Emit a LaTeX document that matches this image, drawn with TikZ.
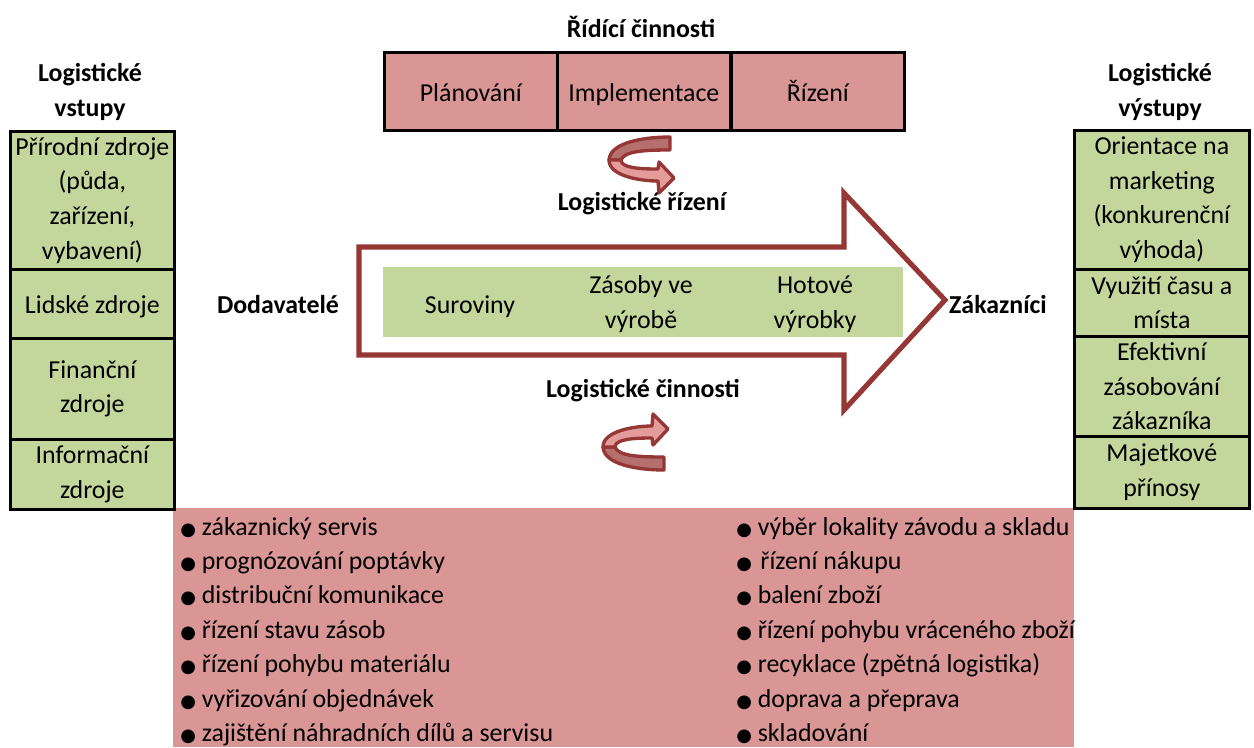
\documentclass[tikz,border=0pt]{standalone}
\usepackage{fontspec}
\setmainfont{Carlito}
\newfontfamily\dejavu{DejaVu Sans}

\definecolor{pinkfill}{HTML}{D99694}
\definecolor{greenfill}{HTML}{C3D69B}
\definecolor{arrowred}{HTML}{953735}
\definecolor{bandlight}{HTML}{E39C9A}
\definecolor{banddark}{HTML}{B5706E}

\newcommand\bul{{\dejavu\fontsize{13.5}{13.5}\selectfont ●}\ }

% twisted circular arrow, drawn around the local origin
\newcommand\twistarrow{%
  \draw[band, fill=banddark] (30,-28) .. controls (5,-28) and (-30,-23) .. (-31,-5)
    -- (-19,-5) .. controls (-16,-14) and (5,-15) .. (30,-15) -- cycle;
  \draw[band, fill=bandlight] (-31,-5) .. controls (-31,11) and (0,16) .. (18,16)
    -- (19,28) -- (34,13) -- (19,-3) -- (18,4)
    .. controls (0,4) and (-19,3) .. (-19,-5) -- cycle;
}

\tikzset{
  txt/.style={font=\fontsize{19.4}{25.9}\selectfont, inner sep=0pt, align=center},
  oneline/.style={text height=16pt, text depth=1pt},
  hdr/.style={txt, font=\fontsize{19.4}{25.9}\selectfont\bfseries},
  cell/.style={txt, draw=black, line width=2pt, fill=greenfill, anchor=north west},
  topcell/.style={txt, oneline, draw=black, line width=2pt, fill=pinkfill, anchor=north west,
    minimum width=173*0.75pt, minimum height=78*0.75pt},
  band/.style={draw=arrowred, line width=2.5pt, line join=round},
}

\begin{document}
\begin{tikzpicture}[x=0.75pt, y=-0.75pt]
\useasboundingbox (0,0) rectangle (1254,747);

% list of logistic activities
\node[fill=pinkfill, inner sep=0pt, anchor=north west,
  minimum width=901*0.75pt, minimum height=239*0.75pt] (acts) at (173,508) {};
\foreach \t [count=\i from 0] in {zákaznický servis, prognózování poptávky,
    distribuční komunikace, řízení stavu zásob, řízení pohybu materiálu,
    vyřizování objednávek, zajištění náhradních dílů a servisu}
  \node[txt, anchor=base west] (la\i) at (180,{535+34.4*\i}) {\bul\t};
\foreach \t [count=\i from 0] in {výběr lokality závodu a skladu, \hspace{2pt}řízení nákupu,
    balení zboží, řízení pohybu vráceného zboží, recyklace (zpětná logistika),
    doprava a přeprava, skladování}
  \node[txt, anchor=base west] (ra\i) at (736,{535+34.4*\i}) {\bul\t};

% management activities
\node[hdr] (ridici) at (641,27) {Řídící činnosti};
\node[topcell] (plan) at (383,51) {Plánování};
\node[topcell] (impl) at (556,51) {Implementace};
\node[topcell] (rize) at (730,51) {Řízení};

% inputs
\node[hdr] (vstupy) at (90,92) {Logistické\\vstupy};
\node[cell, minimum width=164*0.75pt, minimum height=138*0.75pt] (in1) at (9,130)
  {Přírodní zdroje\\(půda,\\zařízení,\\vybavení)};
\node[cell, oneline, minimum width=164*0.75pt, minimum height=69*0.75pt] (in2) at (9,268)
  {Lidské zdroje};
\node[cell, minimum width=164*0.75pt, minimum height=101*0.75pt] (in3) at (9,337)
  {Finanční\\zdroje};
\node[cell, minimum width=164*0.75pt, minimum height=70*0.75pt] (in4) at (9,438)
  {Informační\\zdroje};

% outputs
\node[hdr] (vystupy) at (1160,92) {Logistické\\výstupy};
\node[cell, minimum width=175*0.75pt, minimum height=139*0.75pt] (out1) at (1073,129)
  {Orientace na\\marketing\\(konkurenční\\výhoda)};
\node[cell, minimum width=175*0.75pt, minimum height=67*0.75pt] (out2) at (1073,268)
  {Využití času a\\místa};
\node[cell, minimum width=175*0.75pt, minimum height=100*0.75pt] (out3) at (1073,335)
  {Efektivní\\zásobování\\zákazníka};
\node[cell, minimum width=175*0.75pt, minimum height=72*0.75pt] (out4) at (1073,435)
  {Majetkové\\přínosy};

% main flow arrow
\draw[arrowred, line width=3.8pt, fill=white, line join=miter]
  (359,247) -- (844,247) -- (844,193) -- (945,300) -- (844,410) -- (844,355)
  -- (359,355) -- cycle;
\node[fill=greenfill, inner sep=0pt, anchor=north west,
  minimum width=520*0.75pt, minimum height=70*0.75pt] (flow) at (383,267) {};
\node[txt, oneline] (sur) at (470,303) {Suroviny};
\node[txt] (zas) at (641,304) {Zásoby ve\\výrobě};
\node[txt] (hot) at (815,304) {Hotové\\výrobky};

\node[hdr, oneline] (dod) at (278,303) {Dodavatelé};
\node[hdr, oneline] (zak) at (998,303) {Zákazníci};
\node[hdr, oneline] (lrizeni) at (642,200) {Logistické řízení};
\node[hdr, oneline] (lcinn) at (643,387) {Logistické činnosti};

% circular arrows
\begin{scope}[shift={(640,165)}]
  \twistarrow
\end{scope}
\begin{scope}[shift={(634,442)}, yscale=-1]
  \twistarrow
\end{scope}
\end{tikzpicture}
\end{document}
